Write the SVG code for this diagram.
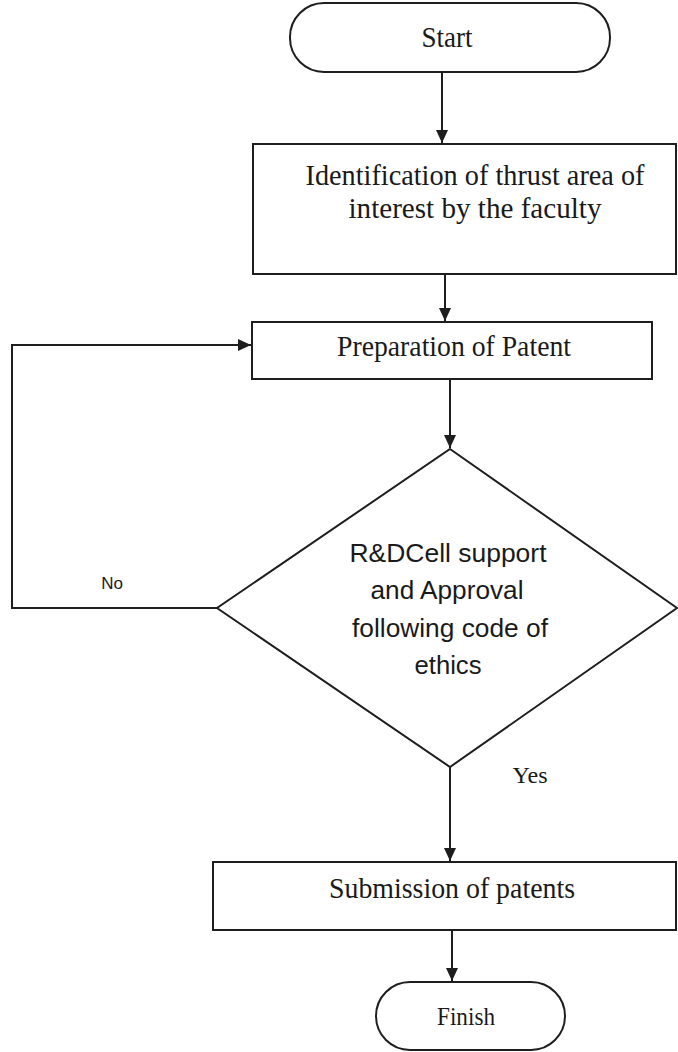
<svg xmlns="http://www.w3.org/2000/svg" width="678" height="1052" viewBox="0 0 678 1052">
<style>
.shape{fill:#ffffff;stroke:#1e1e1e;stroke-width:2}
.conn{fill:none;stroke:#1e1e1e;stroke-width:2}
.serif{font-family:"Liberation Serif","Times New Roman",serif;fill:#1a1a1a;text-anchor:middle}
.sans{font-family:"Liberation Sans",Arial,sans-serif;fill:#1a1a1a;text-anchor:middle}
</style>
<defs>
<marker id="arrow" markerUnits="userSpaceOnUse" markerWidth="14" markerHeight="12" refX="13" refY="6" orient="auto">
<path d="M0,0 L13,6 L0,12 z" fill="#1e1e1e"/>
</marker>
</defs>
<rect width="678" height="1052" fill="#ffffff"/>
<g id="connectors">
<line class="conn" x1="442" y1="72" x2="442" y2="143" marker-end="url(#arrow)"/>
<line class="conn" x1="445" y1="274" x2="445" y2="321" marker-end="url(#arrow)"/>
<line class="conn" x1="450" y1="379" x2="450" y2="448" marker-end="url(#arrow)"/>
<polyline class="conn" points="217,608 12,608 12,345 251,345" marker-end="url(#arrow)"/>
<line class="conn" x1="450" y1="767" x2="450" y2="861" marker-end="url(#arrow)"/>
<line class="conn" x1="452" y1="930" x2="452" y2="981" marker-end="url(#arrow)"/>
<text class="sans" x="112" y="589" font-size="17">No</text>
<text class="serif" x="530" y="783" font-size="24" textLength="35" lengthAdjust="spacingAndGlyphs">Yes</text>
</g>
<g id="start">
<rect class="shape" x="290" y="3" width="320" height="69" rx="34" ry="34"/>
<text class="serif" x="447" y="47" font-size="29" textLength="51" lengthAdjust="spacingAndGlyphs">Start</text>
</g>
<g id="identification">
<rect class="shape" x="253" y="144" width="423" height="130"/>
<text class="serif" x="475" y="185" font-size="29" textLength="339" lengthAdjust="spacingAndGlyphs">Identification of thrust area of</text>
<text class="serif" x="475" y="218" font-size="30" textLength="253" lengthAdjust="spacingAndGlyphs">interest by the faculty</text>
</g>
<g id="preparation">
<rect class="shape" x="252" y="322" width="400" height="57"/>
<text class="serif" x="454" y="356" font-size="29" textLength="234" lengthAdjust="spacingAndGlyphs">Preparation of Patent</text>
</g>
<g id="decision">
<polygon class="shape" points="450,449 677,608 450,767 217,608"/>
<text class="sans" x="448" y="562" font-size="26" textLength="197" lengthAdjust="spacingAndGlyphs">R&amp;DCell support</text>
<text class="sans" x="447" y="599" font-size="26" textLength="153" lengthAdjust="spacingAndGlyphs">and Approval</text>
<text class="sans" x="450" y="637" font-size="26" textLength="196" lengthAdjust="spacingAndGlyphs">following code of</text>
<text class="sans" x="448" y="674" font-size="26" textLength="67" lengthAdjust="spacingAndGlyphs">ethics</text>
</g>
<g id="submission">
<rect class="shape" x="213" y="862" width="463" height="68"/>
<text class="serif" x="452" y="898" font-size="30" textLength="246" lengthAdjust="spacingAndGlyphs">Submission of patents</text>
</g>
<g id="finish">
<rect class="shape" x="376" y="982" width="189" height="68" rx="34" ry="34"/>
<text class="serif" x="466" y="1025" font-size="26" textLength="58" lengthAdjust="spacingAndGlyphs">Finish</text>
</g>
</svg>
